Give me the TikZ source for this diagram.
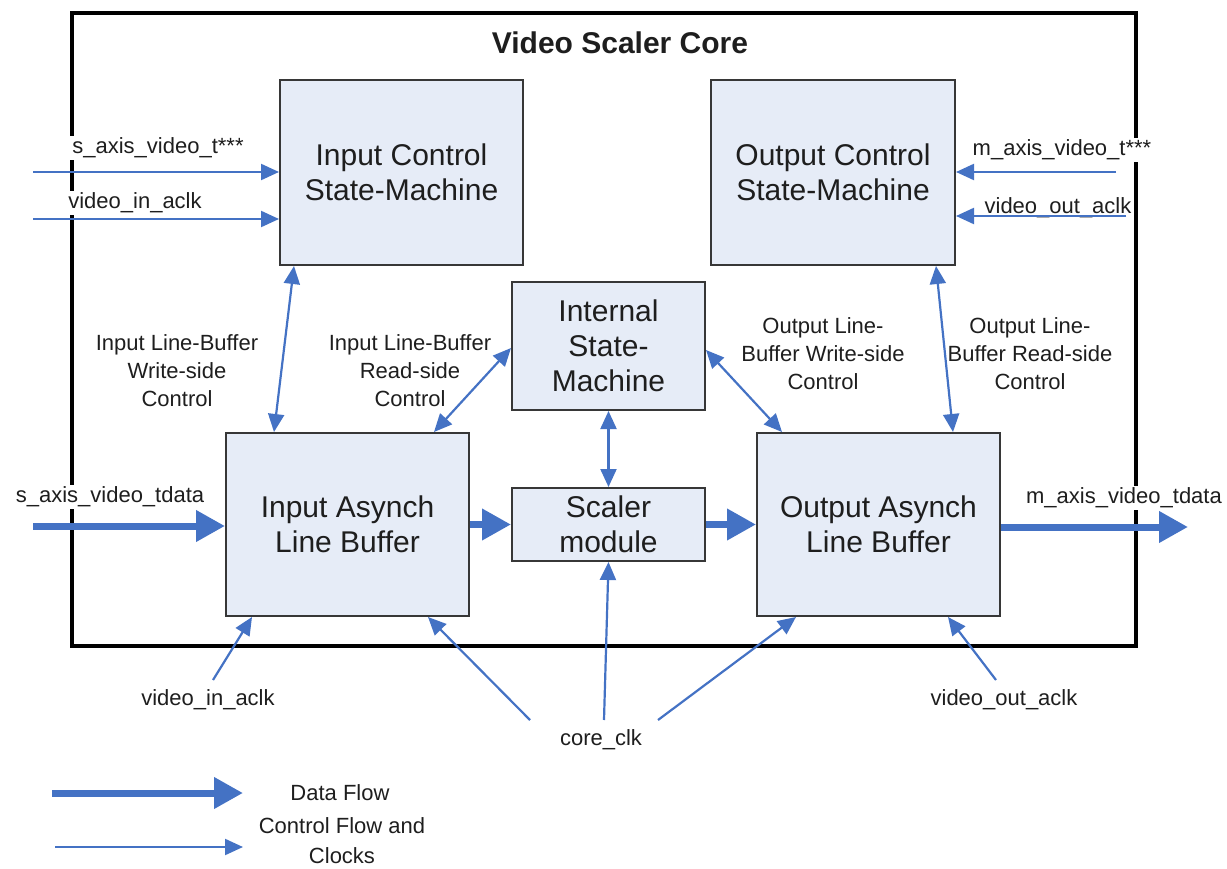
\documentclass[tikz,border=0pt]{standalone}
\usepackage{fontspec}
\setmainfont{Liberation Sans}
\usetikzlibrary{arrows.meta}
\definecolor{flowblue}{RGB}{68,114,196}
\definecolor{boxfill}{RGB}{230,236,247}
\definecolor{boxline}{RGB}{55,55,55}
\definecolor{txt}{RGB}{30,30,30}
\begin{document}
\begin{tikzpicture}[x=1pt,y=-1pt,
  block/.style={draw=boxline, line width=2pt, fill=boxfill, text=txt, align=center,
    inner sep=0pt, font=\fontsize{30}{35}\selectfont},
  sig/.style={fill=white, text=txt, inner sep=2pt, font=\fontsize{22}{28}\selectfont},
  note/.style={text=txt, align=center, inner sep=0pt, font=\fontsize{22}{28}\selectfont},
  ctl/.style={draw=flowblue, line width=2.2pt, -{Triangle[length=18pt,width=16pt]}},
  bictl/.style={draw=flowblue, line width=2.2pt,
    {Triangle[length=18pt,width=16pt]}-{Triangle[length=18pt,width=16pt]}},
  data/.style={draw=flowblue, line width=7pt, -{Triangle[length=29pt,width=30pt]}},
]
\useasboundingbox (0,0) rectangle (1227,869);

% core boundary and title
\draw[line width=4pt] (72,13) rectangle (1136,646);
\node[text=txt, font=\fontsize{30}{36}\selectfont\bfseries] (title) at (620,43) {Video Scaler Core};

% port labels
\node[sig] (lsin)   at (158,148) {s\_axis\_video\_t***};
\node[sig] (lsclk)  at (135,203) {video\_in\_aclk};
\node[sig] (lmin)   at (1062,150) {m\_axis\_video\_t***};
\node[sig] (lmclk)  at (1058,208) {video\_out\_aclk};
\node[sig] (lsdata) at (110,497) {s\_axis\_video\_tdata};
\node[sig] (lmdata) at (1124,498) {m\_axis\_video\_tdata};
\node[sig] (lvin)   at (208,700) {video\_in\_aclk};
\node[sig] (lcore)  at (601,740) {core\_clk};
\node[sig] (lvout)  at (1004,700) {video\_out\_aclk};

% control-path notes
\node[note] (n1) at (177,371) {Input Line-Buffer\\Write-side\\Control};
\node[note] (n2) at (410,371) {Input Line-Buffer\\Read-side\\Control};
\node[note] (n3) at (823,354) {Output Line-\\Buffer Write-side\\Control};
\node[note] (n4) at (1030,354) {Output Line-\\Buffer Read-side\\Control};

% blocks
\node[block, minimum width=243pt, minimum height=185pt] (icsm) at (401.5,172.5) {Input Control\\State-Machine};
\node[block, minimum width=244pt, minimum height=185pt] (ocsm) at (833,172.5) {Output Control\\State-Machine};
\node[block, minimum width=193pt, minimum height=128pt] (ism) at (608.5,346) {Internal\\State-\\Machine};
\node[block, minimum width=193pt, minimum height=73pt] (scal) at (608.5,524.5) {Scaler\\module};
\node[block, minimum width=243pt, minimum height=183pt] (iab) at (347.5,524.5) {Input Asynch\\Line Buffer};
\node[block, minimum width=243pt, minimum height=183pt] (oab) at (878.5,524.5) {Output Asynch\\Line Buffer};

% free ends of the external connections
\coordinate (s1) at (33,172);
\coordinate (s2) at (33,219);
\coordinate (m1) at (1116,172);
\coordinate (m2) at (1126,216);
\coordinate (sd) at (33,526);
\coordinate (md) at (1188,527);
\coordinate (ca) at (213,680);
\coordinate (cb) at (530,720);
\coordinate (cc) at (604,720);
\coordinate (cd) at (658,720);
\coordinate (ce) at (996,680);

% control and clock inputs
\draw[ctl] (s1) -- (s1 -| icsm.west);
\draw[ctl] (s2) -- (s2 -| icsm.west);
\draw[ctl] (m1) -- (m1 -| ocsm.east);
\draw[ctl] (m2) -- (m2 -| ocsm.east);

% line-buffer control handshakes
\draw[bictl] ([xshift=15pt]icsm.south west) -- ([xshift=49pt]iab.north west);
\draw[bictl] ([xshift=-36pt]iab.north east) -- ([yshift=-2pt]ism.west);
\draw[bictl] ([yshift=-4pt]ism.east) -- ([xshift=26pt]oab.north west);
\draw[bictl] ([xshift=-20pt]ocsm.south east) -- ([xshift=-48pt]oab.north east);
\draw[bictl] (ism.south) -- (scal.north);

% data path
\draw[data] (sd) -- (sd -| iab.west);
\draw[data] (iab.east) -- (scal.west);
\draw[data] (scal.east) -- (oab.west);
\draw[data] (oab.east |- md) -- (md);

% clocks from below
\draw[ctl] (ca) -- ([xshift=27pt]iab.south west);
\draw[ctl] (cb) -- ([xshift=-42pt]iab.south east);
\draw[ctl] (cc) -- (scal.south);
\draw[ctl] (cd) -- ([xshift=40pt]oab.south west);
\draw[ctl] (ce) -- ([xshift=-53pt]oab.south east);

% legend
\coordinate (la) at (52,793);
\coordinate (lb) at (243,793);
\coordinate (lc) at (55,847);
\coordinate (ld) at (243,847);
\draw[data] (la) -- (lb);
\draw[ctl] (lc) -- (ld);
\node[note] (ldata) at (340,793) {Data Flow};
\node[note, font=\fontsize{22}{30}\selectfont] (lctl) at (342,841) {Control Flow and\\Clocks};
\end{tikzpicture}
\end{document}
